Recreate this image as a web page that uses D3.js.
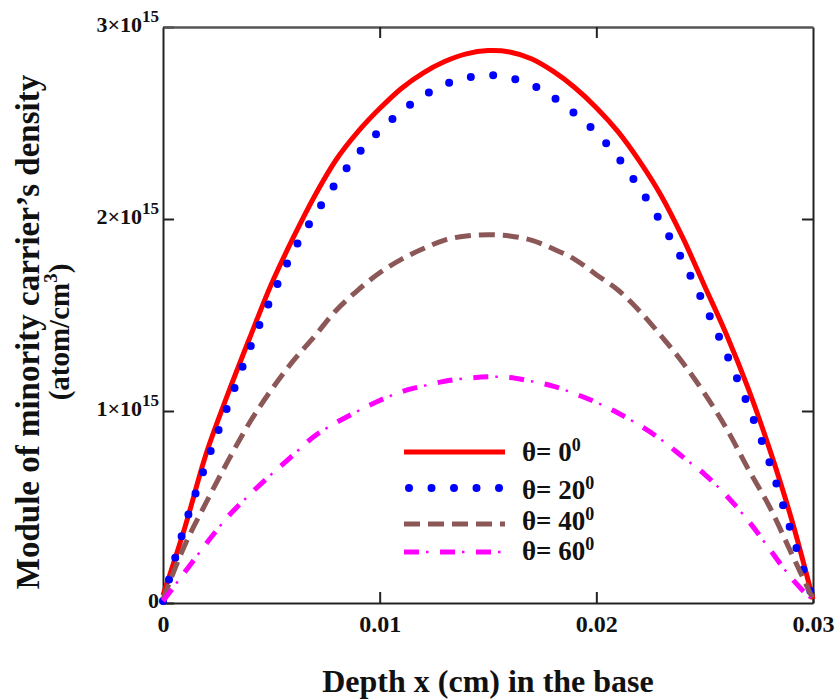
<!DOCTYPE html>
<html>
<head>
<meta charset="utf-8">
<script src="https://cdn.jsdelivr.net/npm/d3@7"></script>
<style>
  body { margin: 0; background: #fff; }
  svg { display: block; font-family: "Liberation Serif", "Times New Roman", serif; }
</style>
</head>
<body>
<svg id="chart"></svg>
<script>
// depth in the base (cm)
const depth = [0, 0.001, 0.002, 0.003, 0.004, 0.005, 0.006, 0.007, 0.008, 0.009, 0.010,
  0.011, 0.012, 0.013, 0.014, 0.015, 0.016, 0.017, 0.018, 0.019, 0.020,
  0.021, 0.022, 0.023, 0.024, 0.025, 0.026, 0.027, 0.028, 0.029, 0.030];

// carrier density, in units of 1e15 atom/cm3
const theta0 = [0.04, 0.39, 0.78, 1.09, 1.38, 1.66, 1.90, 2.12, 2.31, 2.455, 2.575,
  2.68, 2.76, 2.82, 2.86, 2.877, 2.87, 2.835, 2.77, 2.685, 2.58,
  2.455, 2.30, 2.12, 1.90, 1.65, 1.40, 1.12, 0.80, 0.44, 0.02];
const theta20 = [0.01, 0.40, 0.73, 1.03, 1.325, 1.59, 1.83, 2.02, 2.19, 2.34, 2.46,
  2.56, 2.64, 2.70, 2.735, 2.75, 2.735, 2.70, 2.635, 2.55, 2.45,
  2.32, 2.16, 1.98, 1.78, 1.55, 1.30, 1.03, 0.73, 0.37, 0.02];
const theta40 = [0.02, 0.30, 0.525, 0.74, 0.94, 1.11, 1.26, 1.39, 1.525, 1.63, 1.72,
  1.79, 1.845, 1.89, 1.912, 1.918, 1.912, 1.89, 1.845, 1.79, 1.71,
  1.63, 1.52, 1.39, 1.25, 1.09, 0.91, 0.70, 0.50, 0.26, 0.02];
const theta60 = [0.01, 0.16, 0.31, 0.45, 0.565, 0.67, 0.77, 0.87, 0.94, 1.00, 1.055,
  1.10, 1.13, 1.155, 1.17, 1.178, 1.175, 1.155, 1.13, 1.09, 1.045,
  0.99, 0.925, 0.85, 0.76, 0.67, 0.56, 0.43, 0.28, 0.13, 0.01];

const thetaLabels = ["0", "20", "40", "60"];
const xTicks = [0, 0.01, 0.02, 0.03];
const xTickLabels = ["0", "0.01", "0.02", "0.03"];
const yTicks = [0, 1e15, 2e15, 3e15];
const yTickLabels = [["0", ""], ["1×10", "15"], ["2×10", "15"], ["3×10", "15"]];

const UNIT = 1e15;

const w = 837, h = 700;
const margin = {top: 27, right: 24, bottom: 97, left: 163};
const iw = w - margin.left - margin.right;
const ih = h - margin.top - margin.bottom;

const svg = d3.select('#chart').attr('width', w).attr('height', h);
const g = svg.append('g').attr('transform', `translate(${margin.left},${margin.top})`);

const x = d3.scaleLinear().domain([0, 0.03]).range([0, iw]);
const y = d3.scaleLinear().domain([0, 3 * UNIT]).range([ih, 0]);

const line = d3.line()
  .x((d, i) => x(depth[i]))
  .y(d => y(d * UNIT))
  .curve(d3.curveCatmullRom.alpha(0.5));

// styles for each curve (solid, dots, dashes, dash-dot)
const series = [
  {values: theta0, strokes: [{color: '#ff0000', width: 5, dash: null, cap: 'butt'}]},
  {values: theta20, strokes: [{color: '#0000ff', width: 8, dash: '0,22.5', cap: 'round'}]},
  {values: theta40, strokes: [{color: '#8c5757', width: 5, dash: '16,8', cap: 'butt'}]},
  {values: theta60, strokes: [
    {color: '#ff00ff', width: 5, dash: '15,21', cap: 'butt'},
    {color: '#ff00ff', width: 2.5, dash: '0,22,2.5,11.5', cap: 'butt'}
  ]}
];

// axes: ticks point inward on all four sides
const axisStyle = sel => {
  sel.select('.domain').attr('stroke', '#222').attr('stroke-width', 2);
  sel.selectAll('.tick line').attr('stroke', '#222').attr('stroke-width', 2);
};

const xAxis = d3.axisBottom(x)
  .tickValues(xTicks)
  .tickSizeInner(-11).tickSizeOuter(0)
  .tickPadding(12)
  .tickFormat((d, i) => xTickLabels[i]);

const gx = g.append('g').attr('transform', `translate(0,${ih})`).call(xAxis).call(axisStyle);
gx.selectAll('text').attr('font-size', 24).attr('font-weight', 'bold')
  .attr('font-family', '"Liberation Serif", serif').attr('fill', '#111');

const yAxis = d3.axisLeft(y)
  .tickValues(yTicks)
  .tickSizeInner(-11).tickSizeOuter(0)
  .tickPadding(4)
  .tickFormat('');

const gy = g.append('g').call(yAxis).call(axisStyle);
gy.selectAll('.tick text')
  .attr('font-family', '"Liberation Serif", serif')
  .attr('fill', '#111')
  .attr('dy', '0.45em')
  .each(function(d, i) {
    const t = d3.select(this);
    t.append('tspan').attr('font-size', 22).attr('font-weight', 'bold').text(yTickLabels[i][0]);
    if (yTickLabels[i][1]) {
      t.append('tspan').attr('font-size', 17).attr('font-weight', 'bold')
        .attr('dy', -10).text(yTickLabels[i][1]);
    }
  });

g.append('g').attr('transform', `translate(${iw},0)`)
  .call(d3.axisRight(y).tickValues(yTicks.slice(1, 3)).tickSizeInner(-11).tickSizeOuter(0).tickFormat(''))
  .call(axisStyle);

g.append('g')
  .call(d3.axisTop(x).tickValues(xTicks.slice(1, 3)).tickSizeInner(-11).tickSizeOuter(0).tickFormat(''))
  .call(axisStyle)
  .select('.domain').attr('stroke', '#555').attr('stroke-width', 2.5);

// curves
series.forEach(s => {
  s.strokes.forEach(st => {
    g.append('path')
      .datum(s.values)
      .attr('fill', 'none')
      .attr('stroke', st.color)
      .attr('stroke-width', st.width)
      .attr('stroke-linecap', st.cap)
      .attr('stroke-dasharray', st.dash)
      .attr('d', line);
  });
});

// legend
const legendRowY = [452, 488, 524, 552];
const legendTextY = [461, 499, 530, 560];
const legend = svg.append('g');
series.forEach((s, i) => {
  const row = legend.append('g').attr('transform', `translate(0,${legendRowY[i]})`);
  const x1 = i === 1 ? 409 : 404;
  s.strokes.forEach(st => {
    row.append('line')
      .attr('x1', x1).attr('x2', 505).attr('y1', 0).attr('y2', 0)
      .attr('stroke', st.color)
      .attr('stroke-width', st.width)
      .attr('stroke-linecap', st.cap)
      .attr('stroke-dasharray', st.dash);
  });
  const t = legend.append('text')
    .attr('x', 522).attr('y', legendTextY[i])
    .attr('font-size', 27).attr('font-weight', 'bold').attr('fill', '#111');
  t.append('tspan').text('θ= ' + thetaLabels[i]);
  t.append('tspan').attr('font-size', 18).attr('dy', -10).text('0');
});

// axis titles
svg.append('text')
  .attr('x', margin.left + iw / 2).attr('y', 692)
  .attr('text-anchor', 'middle')
  .attr('font-size', 32).attr('font-weight', 'bold').attr('fill', '#111')
  .text('Depth x (cm) in the base');

const yt = svg.append('g').attr('transform', 'translate(27,332) rotate(-90)');
yt.append('text')
  .attr('text-anchor', 'middle').attr('dy', '0.35em')
  .attr('font-size', 33).attr('font-weight', 'bold').attr('fill', '#111')
  .text('Module of minority carrier’s density');
const yt2 = yt.append('text')
  .attr('text-anchor', 'middle').attr('y', 32).attr('dy', '0.35em')
  .attr('font-size', 29).attr('font-weight', 'bold').attr('fill', '#111');
yt2.append('tspan').text('(atom/cm');
yt2.append('tspan').attr('font-size', 19).attr('dy', -12).text('3');
yt2.append('tspan').attr('dy', 12).text(')');
</script>
</body>
</html>
